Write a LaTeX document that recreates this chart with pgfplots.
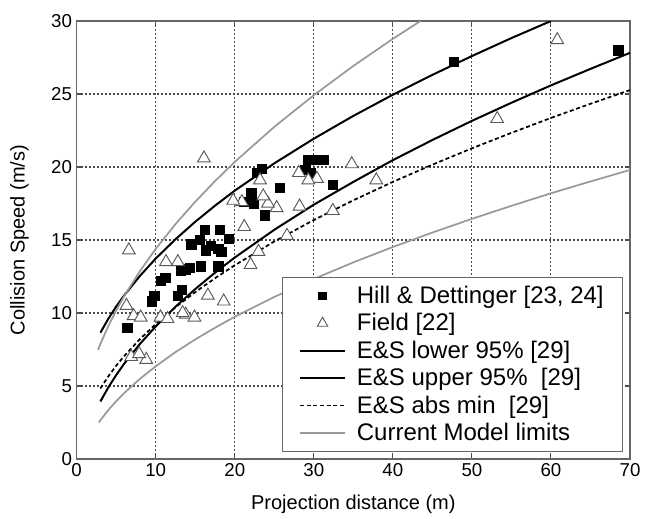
\documentclass[border=0pt]{standalone}
\usepackage{fontspec}
\setmainfont{Liberation Sans}
\usepackage{pgfplots}
\pgfplotsset{compat=1.18}
\definecolor{modelgray}{gray}{0.6}
\definecolor{framegray}{gray}{0.4}

\begin{document}
\begin{tikzpicture}
\begin{axis}[
    scale only axis, width=415pt, height=328.5pt,
    xmin=0, xmax=70, ymin=0, ymax=30,
    xtick={0,10,...,70}, ytick={0,5,...,30},
    xmajorgrids=true, ymajorgrids=true,
    major grid style={draw=black!70, dash pattern=on 1.5pt off 1.5pt, line width=0.8pt},
    axis line style={framegray, line width=1pt},
    tick align=inside, tick pos=both, major tick length=4pt,
    tick style={black!70, line width=0.8pt},
    /pgf/number format/assume math mode=true,
    tick label style={font=\fontsize{14}{16}\selectfont},
    xlabel={Projection distance (m)}, ylabel={Collision Speed (m/s)},
    every axis x label/.style={at={(axis description cs:0.5,0)}, yshift=-34pt, anchor=center, font=\fontsize{15}{17}\selectfont},
    every axis y label/.style={at={(axis description cs:0,0.5)}, xshift=-43pt, rotate=90, anchor=center, font=\fontsize{15}{17}\selectfont},
    legend cell align=left,
    legend style={at={(axis cs:69.1,0.5)}, anchor=south east, draw=framegray, line width=0.8pt,
        font=\fontsize{18}{21}\selectfont, row sep=2pt, column sep=6pt,
        inner xsep=12pt, inner ysep=4.5pt},
    legend image code/.code={\draw[mark repeat=2, mark phase=2, #1]
        plot coordinates {(0pt,0pt) (17pt,0pt) (34pt,0pt)};},
]
% Hill & Dettinger
\addplot[only marks, mark=square*, mark size=3.5pt, black,
    legend image post style={mark size=2.8pt}] coordinates {
    (6.4,9.0)(9.5,10.8)(9.8,11.2)(10.6,12.2)(11.2,12.4)(12.8,11.2)(13.3,11.6)
    (13.8,13.0)(14.3,13.1)(14.5,14.7)(15.6,15.0)(16.2,15.7)(16.3,14.3)(17.0,14.6)
    (17.9,14.4)(18.1,15.7)(19.2,15.1)(18.3,14.2)(15.7,13.2)(17.9,13.2)(13.2,12.9)
    (21.1,17.6)(22.1,18.2)(22.4,17.5)(22.8,19.6)(23.4,19.9)(23.8,16.7)(25.7,18.6)
    (28.9,19.8)(29.2,20.5)(29.6,19.6)(30.2,20.5)(31.3,20.5)(32.4,18.8)
    (47.7,27.2)(68.5,28.0)
};
\addlegendentry{Hill \& Dettinger [23, 24]}
% Field
\addplot[only marks, mark=triangle*, mark size=5.5pt, draw=black!65, fill=white, line width=0.7pt,
    legend image post style={mark size=4.5pt}] coordinates {
    (6.6,14.3)(16.1,20.6)(60.8,28.7)(53.2,23.3)(34.8,20.2)(37.9,19.1)(32.4,17.0)
    (30.4,19.2)(29.3,19.1)(28.1,19.6)(28.2,17.3)(26.6,15.3)(25.3,17.2)(24.2,17.5)
    (23.6,18.0)(23.2,19.1)(23.0,14.2)(22.0,13.3)(21.2,15.9)(20.9,17.6)(19.8,17.7)
    (16.6,11.2)(18.6,10.8)(13.8,9.9)(14.9,9.7)(11.3,13.5)(12.8,13.5)(6.3,10.5)
    (7.2,9.8)(8.1,9.7)(10.6,9.7)(11.5,9.6)(13.4,10.0)(6.9,7.0)(8.8,6.8)(7.9,7.2)
};
\addlegendentry{Field [22]}
% E&S lower 95%
\addplot[black, line width=1.5pt] coordinates {
    (3,3.94)(4,4.90)(5,5.75)(6,6.52)(8,7.88)(10,9.08)(12.5,10.43)(15,11.64)
    (17.5,12.76)(20,13.80)(25,15.70)(30,17.42)(35,18.98)(40,20.47)(45,21.85)
    (50,23.16)(55,24.40)(60,25.59)(65,26.72)(70,27.82)
};
\addlegendentry{E\&S lower 95\% [29]}
% E&S upper 95%
\addplot[black, line width=1.5pt] coordinates {
    (3,8.65)(4,9.60)(5,10.44)(6,11.20)(8,12.54)(10,13.73)(12.5,15.05)(15,16.25)
    (17.5,17.35)(20,18.38)(25,20.25)(30,21.94)(35,23.50)(40,24.95)(45,26.31)
    (50,27.60)(55,28.83)(60,30.00)
};
\addlegendentry{E\&S upper 95\%\ \ [29]}
% E&S abs min
\addplot[black, line width=1.3pt, dash pattern=on 3pt off 2pt] coordinates {
    (3,4.83)(4,5.66)(5,6.39)(6,7.04)(8,8.21)(10,9.24)(12.5,10.39)(15,11.43)
    (17.5,12.38)(20,13.27)(25,14.90)(30,16.37)(35,17.72)(40,18.98)(45,20.16)
    (50,21.28)(55,22.34)(60,23.36)(65,24.33)(70,25.27)
};
\addlegendentry{E\&S abs min\ \ [29]}
% Current model limits
\addplot[modelgray, line width=1.3pt] coordinates {
    (2.7,7.48)(3,7.88)(4,9.10)(5,10.17)(6,11.15)(8,12.87)(10,14.39)(12.5,16.09)
    (15,17.62)(17.5,19.03)(20,20.35)(25,22.75)(30,24.92)(35,26.92)(40,28.78)(43.5,30.0)
};
\addlegendentry{Current Model limits}
\addplot[modelgray, line width=1.3pt, forget plot] coordinates {
    (2.8,2.50)(3,2.66)(4,3.35)(5,3.96)(6,4.51)(8,5.49)(10,6.35)(12.5,7.32)
    (15,8.19)(17.5,8.99)(20,9.74)(25,11.10)(30,12.33)(35,13.47)(40,14.52)
    (45,15.51)(50,16.45)(55,17.34)(60,18.20)(65,19.01)(70,19.80)
};
\end{axis}
\pgfresetboundingbox
\path[use as bounding box] (-57.5pt,-44.25pt) rectangle (426.25pt,344.25pt);
\end{tikzpicture}
\end{document}
